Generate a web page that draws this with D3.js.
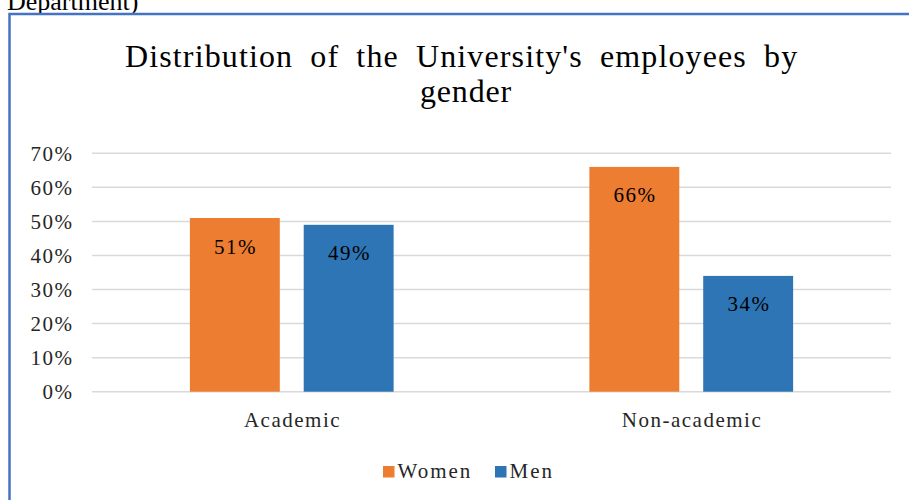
<!DOCTYPE html>
<html>
<head>
<meta charset="utf-8">
<script src="https://cdn.jsdelivr.net/npm/d3@7"></script>
<style>
  html, body { margin: 0; padding: 0; background: #fff; }
  svg { display: block; }
  svg text { font-family: "Liberation Serif"; }
</style>
</head>
<body>
<svg id="chart" width="909" height="500"></svg>
<script>
const categories = ["Academic", "Non-academic"];
const seriesNames = ["Women", "Men"];
const women = [0.51, 0.66];
const men = [0.49, 0.34];
const yTicks = [0, 0.1, 0.2, 0.3, 0.4, 0.5, 0.6, 0.7];
const titleLines = ["Distribution of the University's employees by", "gender"];
const colors = ["#ED7D31", "#2E75B6"];

const seriesValues = [women, men];

const svg = d3.select("#chart");
const W = 909, H = 500;
const m = { left: 92, right: 18, top: 153.3, bottom: 108.3 };

// page text above chart frame (cut off)
svg.append("text")
  .attr("x", 7).attr("y", 9.5)
  .attr("font-size", 26)
  .attr("fill", "#000")
  .text("Department)");

// chart frame
svg.append("rect")
  .attr("x", 9.5).attr("y", 14)
  .attr("width", 1000).attr("height", 1000)
  .attr("fill", "#fff")
  .attr("stroke", "#4472C4")
  .attr("stroke-width", 2.5);

// title
const titleLayout = [{ x: 461.5, y: 67.3, len: 673 }, { x: 466, y: 101.7, len: 92 }];
titleLines.forEach((t, i) => {
  svg.append("text")
    .attr("x", titleLayout[i].x).attr("y", titleLayout[i].y)
    .attr("text-anchor", "middle")
    .attr("font-size", 32)
    .attr("letter-spacing", 0.8)
    .attr("word-spacing", 8)
    .attr("textLength", titleLayout[i].len)
    .attr("lengthAdjust", "spacing")
    .attr("fill", "#000")
    .text(t);
});

const x0 = d3.scaleBand()
  .domain(categories)
  .range([m.left, W - m.right])
  .paddingInner(0.49)
  .paddingOuter(0.245);

const x1 = d3.scaleBand()
  .domain(seriesNames)
  .range([0, x0.bandwidth()])
  .paddingInner(0.21);

const y = d3.scaleLinear()
  .domain([0, 0.7])
  .range([H - m.bottom, m.top]);

// gridlines
svg.append("g")
  .selectAll("line")
  .data(yTicks)
  .join("line")
  .attr("x1", m.left).attr("x2", W - m.right)
  .attr("y1", d => y(d)).attr("y2", d => y(d))
  .attr("stroke", "#D9D9D9")
  .attr("stroke-width", 1.5);

// y tick labels
const fmt = d3.format(".0%");
svg.append("g")
  .selectAll("text")
  .data(yTicks)
  .join("text")
  .attr("x", 73.5)
  .attr("y", d => y(d) + 7.5)
  .attr("text-anchor", "end")
  .attr("font-size", 21)
  .attr("letter-spacing", 1.5)
  .attr("fill", "#262626")
  .text(d => fmt(d));

// bars
const groups = svg.append("g")
  .selectAll("g")
  .data(categories)
  .join("g")
  .attr("transform", c => `translate(${x0(c)},0)`);

groups.selectAll("rect")
  .data((c, ci) => seriesNames.map((s, si) => ({ s, si, v: seriesValues[si][ci] })))
  .join("rect")
  .attr("x", d => x1(d.s))
  .attr("y", d => y(d.v))
  .attr("width", x1.bandwidth())
  .attr("height", d => y(0) - y(d.v))
  .attr("fill", d => colors[d.si]);

groups.selectAll("text.lbl")
  .data((c, ci) => seriesNames.map((s, si) => ({ s, si, v: seriesValues[si][ci] })))
  .join("text")
  .attr("class", "lbl")
  .attr("x", d => x1(d.s) + x1.bandwidth() / 2 + 0.75)
  .attr("y", d => y(d.v) + 35.5)
  .attr("text-anchor", "middle")
  .attr("font-size", 21)
  .attr("letter-spacing", 1.5)
  .attr("fill", "#000")
  .text(d => fmt(d.v));

// category labels
svg.append("g")
  .selectAll("text")
  .data(categories)
  .join("text")
  .attr("x", c => x0(c) + x0.bandwidth() / 2 + 0.75)
  .attr("y", 427)
  .attr("text-anchor", "middle")
  .attr("font-size", 21)
  .attr("letter-spacing", 1.5)
  .attr("fill", "#262626")
  .text(c => c);

// legend
const legendX = [383, 495];
const lg = svg.append("g")
  .selectAll("g")
  .data(seriesNames)
  .join("g")
  .attr("transform", (s, i) => `translate(${legendX[i]},466)`);
lg.append("rect")
  .attr("width", 11.5).attr("height", 11.5)
  .attr("fill", (s, i) => colors[i]);
lg.append("text")
  .attr("x", 14.5).attr("y", 12)
  .attr("font-size", 21)
  .attr("letter-spacing", 2)
  .attr("fill", "#262626")
  .text(s => s);
</script>
</body>
</html>
